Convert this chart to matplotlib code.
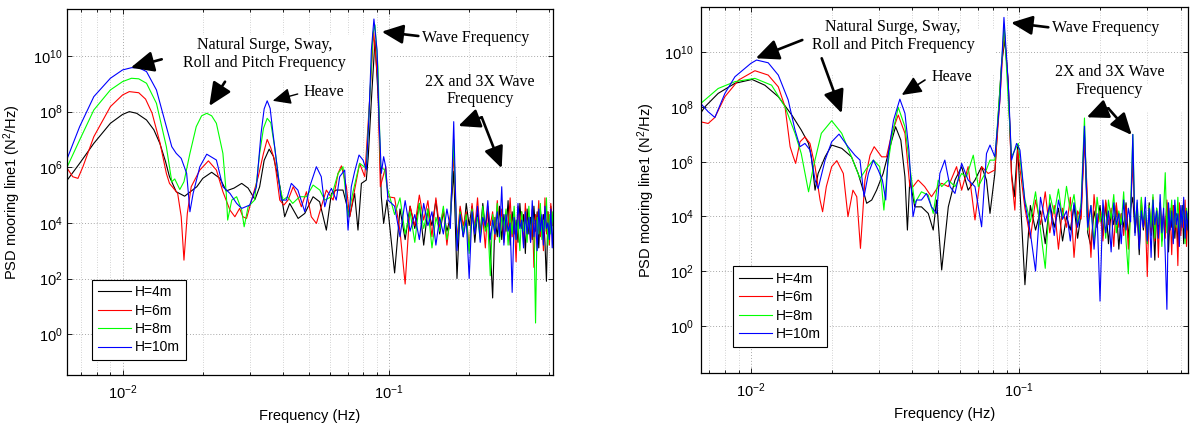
import numpy as np
import matplotlib
matplotlib.use('Agg')
import matplotlib.pyplot as plt
from matplotlib.ticker import LogLocator, NullLocator, FixedLocator
from matplotlib.patches import Rectangle

plt.rcParams['font.family'] = ['Liberation Sans', 'DejaVu Sans']
plt.rcParams['mathtext.fontset'] = 'custom'
plt.rcParams['mathtext.rm'] = 'Liberation Sans'
plt.rcParams['mathtext.it'] = 'Liberation Sans:italic'
plt.rcParams['mathtext.default'] = 'regular'

# ---------------- data (frequency in Hz, PSD as log10 value) ----------------
labels = ['H=4m', 'H=6m', 'H=8m', 'H=10m']
colors = ['#000000', '#ff0000', '#00ff00', '#0000ff']

noise_f = [0.105, 0.110, 0.115, 0.120, 0.125, 0.130, 0.135, 0.140, 0.145, 0.150,
           0.155, 0.160, 0.165, 0.170, 0.175, 0.180, 0.185, 0.190, 0.195, 0.200,
           0.205, 0.210, 0.215, 0.220, 0.225, 0.230, 0.235, 0.240, 0.245, 0.250,
           0.255, 0.260, 0.265, 0.270, 0.275, 0.280, 0.285, 0.290, 0.295, 0.300,
           0.305, 0.310, 0.315, 0.320, 0.325, 0.330, 0.335, 0.340, 0.345, 0.350,
           0.355, 0.360, 0.365, 0.370, 0.375, 0.380, 0.385, 0.390, 0.395, 0.400,
           0.405, 0.410, 0.415, 0.420, 0.425, 0.430]

# ---- left panel ----
black_L = [(0.0062, 5.54), (0.0069, 6.14), (0.0078, 6.86), (0.0090, 7.58), (0.0100, 7.90),
           (0.0106, 8.00), (0.0113, 7.94), (0.0123, 7.70), (0.0131, 7.35), (0.0138, 6.86),
           (0.0145, 6.20), (0.0150, 5.66), (0.0159, 5.12), (0.0171, 4.96), (0.0190, 5.30),
           (0.0200, 5.60), (0.0216, 5.82), (0.0232, 5.60), (0.0245, 5.15), (0.0262, 5.25),
           (0.0280, 5.42), (0.0296, 5.25), (0.0314, 4.84), (0.0327, 5.30), (0.0340, 6.25),
           (0.0355, 6.65), (0.0368, 6.40), (0.0390, 5.30), (0.0406, 4.22), (0.0424, 4.70),
           (0.0456, 4.16), (0.0483, 4.34), (0.0519, 4.94), (0.0549, 4.76), (0.0582, 3.74),
           (0.0608, 5.06), (0.0634, 5.18), (0.0672, 5.18), (0.0712, 4.22), (0.0743, 5.06),
           (0.0765, 3.74), (0.0788, 5.42), (0.0822, 5.54), (0.0836, 6.38), (0.0859, 8.42),
           (0.0886, 10.55), (0.0912, 8.42), (0.0936, 4.94), (0.0955, 3.98), (0.0983, 4.82)]
red_L = [(0.0062, 5.96), (0.0065, 5.66), (0.0068, 5.60), (0.0071, 6.02), (0.0078, 7.10),
         (0.0090, 8.18), (0.0100, 8.60), (0.0106, 8.72), (0.0115, 8.68), (0.0122, 8.45),
         (0.0129, 7.95), (0.0138, 6.90), (0.0146, 5.78), (0.0150, 5.42), (0.0161, 5.06),
         (0.0166, 4.22), (0.0170, 2.66), (0.0175, 4.34), (0.0181, 5.30), (0.0195, 5.90),
         (0.0210, 6.23), (0.0225, 5.90), (0.0238, 5.12), (0.0253, 4.46), (0.0264, 4.22),
         (0.0275, 4.52), (0.0283, 4.22), (0.0292, 4.16), (0.0305, 4.82), (0.0323, 5.66),
         (0.0338, 6.50), (0.0349, 7.00), (0.0360, 6.70), (0.0372, 6.26), (0.0389, 4.82),
         (0.0403, 4.64), (0.0418, 4.82), (0.0437, 5.30), (0.0455, 4.94), (0.0469, 4.58),
         (0.0490, 5.12), (0.0511, 4.22), (0.0534, 3.98), (0.0557, 4.58), (0.0582, 5.18),
         (0.0617, 4.82), (0.0644, 5.78), (0.0663, 6.05), (0.0692, 5.30), (0.0712, 4.22),
         (0.0743, 5.18), (0.0776, 6.14), (0.0811, 5.66), (0.0846, 8.42), (0.0876, 10.88),
         (0.0909, 9.02), (0.0928, 5.30), (0.0972, 6.02), (0.0991, 4.94)]
green_L = [(0.0062, 6.02), (0.0069, 6.98), (0.0078, 8.06), (0.0090, 8.78), (0.0100, 9.08),
           (0.0108, 9.20), (0.0115, 9.18), (0.0123, 9.02), (0.0134, 8.30), (0.0146, 6.74),
           (0.0153, 5.48), (0.0157, 5.58), (0.0164, 5.20), (0.0170, 5.48), (0.0179, 6.50),
           (0.0189, 7.46), (0.0198, 7.85), (0.0207, 7.94), (0.0216, 7.85), (0.0225, 7.58),
           (0.0238, 6.50), (0.0245, 5.06), (0.0248, 4.10), (0.0257, 4.82), (0.0268, 4.94),
           (0.0280, 4.46), (0.0286, 3.86), (0.0296, 4.58), (0.0313, 4.82), (0.0327, 6.50),
           (0.0338, 7.40), (0.0349, 7.76), (0.0360, 7.60), (0.0372, 6.74), (0.0389, 5.30),
           (0.0400, 4.82), (0.0416, 4.94), (0.0435, 4.70), (0.0462, 4.94), (0.0490, 4.94),
           (0.0519, 5.36), (0.0550, 5.18), (0.0574, 4.82), (0.0608, 4.94), (0.0644, 5.78),
           (0.0672, 6.02), (0.0702, 4.22), (0.0733, 5.12), (0.0776, 6.14), (0.0822, 5.96),
           (0.0846, 8.42), (0.0871, 10.82), (0.0886, 11.12), (0.0909, 9.62), (0.0930, 6.02),
           (0.0964, 5.90), (0.0983, 5.30)]
blue_L = [(0.0062, 6.32), (0.0069, 7.46), (0.0078, 8.54), (0.0090, 9.20), (0.0100, 9.50),
          (0.0108, 9.58), (0.0115, 9.58), (0.0123, 9.44), (0.0134, 8.78), (0.0146, 7.46),
          (0.0153, 6.74), (0.0159, 6.50), (0.0166, 6.32), (0.0174, 5.78), (0.0179, 4.40),
          (0.0184, 5.06), (0.0195, 6.02), (0.0207, 6.47), (0.0225, 6.26), (0.0238, 5.30),
          (0.0253, 5.06), (0.0268, 4.70), (0.0280, 4.52), (0.0300, 4.64), (0.0318, 5.30),
          (0.0331, 7.22), (0.0340, 8.10), (0.0349, 8.39), (0.0358, 8.12), (0.0367, 7.22),
          (0.0383, 5.78), (0.0394, 4.82), (0.0412, 4.82), (0.0430, 5.42), (0.0455, 5.18),
          (0.0483, 4.40), (0.0504, 5.30), (0.0534, 6.02), (0.0557, 5.66), (0.0574, 4.58),
          (0.0590, 5.00), (0.0608, 5.24), (0.0634, 4.82), (0.0653, 5.66), (0.0682, 5.90),
          (0.0702, 3.74), (0.0722, 5.30), (0.0743, 5.84), (0.0772, 6.44), (0.0799, 6.26),
          (0.0822, 5.90), (0.0841, 7.82), (0.0859, 10.22), (0.0878, 11.33), (0.0902, 10.22),
          (0.0917, 7.82), (0.0936, 5.78), (0.0955, 6.38), (0.0972, 6.02), (0.0991, 4.82)]

black_L_noise = [2.2, 4.5, 3.4, 4.6, 3.8, 4.7, 3.2, 4.5, 3.9, 4.8,
                 3.6, 4.4, 3.7, 4.2, 5.86, 2.0, 4.5, 3.5, 4.7, 3.9,
                 4.6, 3.3, 4.4, 3.6, 4.7, 3.8, 4.5, 3.1, 1.3, 4.2,
                 3.5, 4.6, 3.4, 4.3, 3.7, 4.8, 3.2, 4.4, 3.6, 4.1,
                 3.3, 4.7, 3.8, 4.3, 2.9, 4.5, 3.6, 4.2, 3.4, 4.6,
                 3.7, 4.4, 3.1, 4.5, 3.8, 4.3, 3.3, 1.9, 4.4, 3.5,
                 4.6, 3.9, 4.2, 3.6, 4.4, 3.8]
red_L_noise = [4.9, 3.7, 1.8, 4.6, 3.9, 5.0, 4.1, 4.8, 3.5, 4.9,
               3.8, 4.5, 3.2, 4.3, 6.5, 3.4, 4.6, 3.9, 4.4, 3.0,
               4.7, 3.8, 4.9, 3.6, 4.2, 3.1, 4.6, 3.9, 4.4, 3.4,
               4.8, 3.7, 4.5, 3.3, 4.1, 3.8, 4.9, 3.5, 4.3, 2.6,
               4.6, 3.9, 4.4, 3.2, 4.7, 3.6, 4.2, 3.3, 4.5, 2.4,
               4.3, 3.7, 4.8, 3.5, 4.1, 3.0, 4.9, 3.6, 4.4, 3.2,
               4.7, 3.9, 4.3, 3.4, 4.6, 3.8]
green_L_noise = [4.3, 4.9, 3.6, 4.4, 3.3, 4.7, 3.8, 4.5, 3.1, 4.2,
                 3.7, 4.6, 3.4, 4.1, 7.0, 3.2, 4.4, 3.6, 4.3, 2.9,
                 4.5, 3.8, 4.2, 3.4, 4.6, 3.7, 4.0, 2.1, 4.3, 3.6,
                 4.7, 3.3, 4.2, 3.8, 4.5, 3.2, 4.3, 3.6, 4.6, 3.4,
                 4.1, 3.0, 4.4, 3.7, 4.2, 3.3, 4.6, 3.5, 4.3, 3.8,
                 0.4, 4.2, 3.6, 4.7, 3.4, 4.1, 3.7, 4.9, 3.2, 4.3,
                 3.6, 4.4, 3.5, 4.6, 3.7, 4.1]
blue_L_noise = [4.6, 3.5, 4.8, 3.7, 4.3, 3.4, 4.7, 3.9, 4.4, 3.2,
                4.2, 3.6, 4.5, 3.8, 7.64, 3.0, 4.3, 3.5, 4.1, 2.0,
                4.4, 3.6, 4.6, 3.3, 4.2, 3.9, 4.8, 3.4, 4.1, 3.6,
                4.4, 3.5, 5.3, 3.2, 4.3, 3.7, 4.0, 1.5, 4.2, 3.4,
                4.7, 3.8, 4.1, 3.1, 4.4, 3.6, 4.2, 3.3, 4.8, 3.5,
                4.1, 3.0, 4.5, 3.7, 4.3, 3.2, 4.6, 3.8, 4.0, 3.4,
                4.5, 3.1, 4.2, 3.7, 4.3, 3.6]

# ---- right panel ----
black_R = [(0.0065, 7.78), (0.00674, 8.01), (0.00755, 8.50), (0.00872, 8.87), (0.0101, 9.01),
           (0.01127, 8.80), (0.01265, 8.38), (0.0142, 7.71), (0.0154, 7.16), (0.0164, 6.67),
           (0.0168, 6.18), (0.01734, 4.96), (0.0178, 5.57), (0.0189, 6.18), (0.0200, 6.61),
           (0.0218, 6.49), (0.0237, 6.18), (0.0251, 5.57), (0.0262, 4.96), (0.0270, 4.48),
           (0.0282, 4.60), (0.0294, 4.96), (0.0311, 5.57), (0.0330, 6.55), (0.0346, 7.28),
           (0.0362, 6.79), (0.0375, 5.45), (0.0383, 3.50), (0.0391, 5.33), (0.0408, 4.35),
           (0.0432, 4.35), (0.0458, 4.11), (0.0478, 3.50), (0.0492, 4.60), (0.0514, 2.04),
           (0.0544, 4.35), (0.0576, 5.33), (0.0610, 5.82), (0.0645, 4.96), (0.0684, 5.33),
           (0.0724, 5.82), (0.0755, 5.33), (0.0778, 4.11), (0.0811, 5.57), (0.0835, 7.71),
           (0.0859, 9.60), (0.0884, 10.45), (0.0910, 8.87), (0.0936, 5.57), (0.0958, 4.72),
           (0.0986, 6.55)]
red_R = [(0.0065, 7.46), (0.00693, 7.40), (0.00734, 7.62), (0.0080, 8.38), (0.0090, 8.99),
         (0.01035, 9.33), (0.0116, 9.17), (0.01265, 8.74), (0.0134, 8.01), (0.0140, 6.55),
         (0.01439, 6.18), (0.01468, 5.94), (0.01524, 6.73), (0.0159, 6.91), (0.0166, 6.67),
         (0.01734, 5.82), (0.0181, 4.60), (0.0185, 4.17), (0.0191, 5.09), (0.0200, 5.82),
         (0.0209, 6.04), (0.0221, 5.57), (0.0230, 3.99), (0.0240, 4.96), (0.0248, 4.72),
         (0.0256, 2.83), (0.0266, 5.33), (0.0278, 6.24), (0.0288, 6.55), (0.0307, 6.18),
         (0.0320, 6.18), (0.0335, 7.04), (0.0354, 7.71), (0.0375, 7.04), (0.0391, 5.09),
         (0.0402, 5.09), (0.0420, 5.33), (0.0444, 5.09), (0.0471, 4.72), (0.0499, 5.09),
         (0.0514, 5.21), (0.0544, 5.09), (0.0584, 5.82), (0.0610, 4.96), (0.0645, 5.82),
         (0.0684, 3.87), (0.0724, 5.82), (0.0766, 5.57), (0.0811, 5.70), (0.0847, 8.26),
         (0.0879, 10.84), (0.0910, 8.87), (0.0936, 5.45), (0.0963, 4.23), (0.0986, 6.43)]
green_R = [(0.0065, 8.13), (0.00755, 8.68), (0.00872, 8.93), (0.01035, 9.05), (0.01194, 8.80),
           (0.0134, 8.01), (0.0146, 7.04), (0.0154, 6.30), (0.0164, 4.90), (0.0171, 5.82),
           (0.0183, 7.04), (0.0200, 7.50), (0.0218, 7.04), (0.0237, 6.18), (0.0255, 5.39),
           (0.0270, 5.76), (0.0286, 6.06), (0.0302, 5.82), (0.0313, 4.23), (0.0323, 5.82),
           (0.0337, 7.04), (0.0354, 7.99), (0.0375, 7.28), (0.0391, 5.82), (0.0408, 4.48),
           (0.0432, 4.90), (0.0458, 4.78), (0.0478, 4.11), (0.0499, 5.33), (0.0514, 5.09),
           (0.0544, 5.33), (0.0576, 5.09), (0.0610, 5.57), (0.0636, 5.45), (0.0674, 6.24),
           (0.0704, 5.09), (0.0745, 5.57), (0.0778, 6.06), (0.0811, 6.06), (0.0842, 8.26),
           (0.0879, 11.00), (0.0910, 8.26), (0.0936, 6.18), (0.0963, 6.43), (0.0991, 6.67)]
blue_R = [(0.0065, 8.13), (0.00693, 7.83), (0.00734, 7.62), (0.0080, 8.50), (0.00872, 9.11),
          (0.0100, 9.60), (0.0105, 9.72), (0.0116, 9.62), (0.01265, 9.17), (0.01377, 8.26),
          (0.0146, 7.16), (0.01524, 6.55), (0.0159, 6.67), (0.0166, 6.43), (0.01734, 5.33),
          (0.0178, 5.02), (0.0189, 6.06), (0.0200, 6.73), (0.0213, 7.01), (0.0230, 6.55),
          (0.0244, 6.24), (0.0255, 6.06), (0.0264, 4.72), (0.0274, 5.57), (0.0286, 6.06),
          (0.0298, 5.70), (0.0309, 5.33), (0.0318, 4.60), (0.0325, 6.30), (0.0340, 7.52),
          (0.0359, 8.29), (0.0375, 7.77), (0.0388, 6.43), (0.0402, 3.99), (0.0414, 4.60),
          (0.0432, 4.60), (0.0451, 4.84), (0.0471, 4.35), (0.0492, 4.11), (0.0506, 5.57),
          (0.0528, 6.06), (0.0552, 5.09), (0.0576, 4.84), (0.0610, 5.94), (0.0645, 5.33),
          (0.0684, 5.09), (0.0724, 3.62), (0.0755, 6.30), (0.0778, 6.61), (0.0811, 6.18),
          (0.0847, 8.26), (0.0877, 11.28), (0.0910, 8.87), (0.0936, 6.06), (0.0977, 6.67),
          (0.1006, 6.43)]

black_R_noise = [1.5, 4.4, 3.5, 4.2, 3.0, 4.5, 3.6, 4.3, 3.1, 4.0,
                 3.5, 4.4, 3.2, 4.1, 6.97, 3.4, 2.9, 4.2, 3.6, 4.4,
                 3.3, 4.5, 3.0, 4.2, 3.7, 4.4, 2.8, 4.1, 3.6, 4.5,
                 3.2, 4.3, 4.7, 3.4, 4.2, 2.6, 4.4, 3.5, 4.1, 3.0,
                 4.5, 3.3, 4.0, 2.4, 4.3, 3.6, 4.4, 3.1, 4.0, 3.5,
                 4.5, 2.7, 4.2, 3.6, 4.4, 3.2, 4.1, 2.9, 4.3, 3.5,
                 4.4, 3.0, 4.2, 3.4, 4.0, 3.6]
red_R_noise = [4.3, 3.2, 4.6, 3.7, 4.9, 3.4, 4.4, 2.8, 4.3, 3.6,
               4.7, 2.5, 4.2, 3.9, 6.9, 4.5, 2.5, 4.8, 3.6, 4.2,
               3.1, 4.6, 3.7, 4.3, 2.9, 4.5, 3.6, 4.1, 3.3, 4.4,
               2.8, 4.2, 6.0, 3.5, 4.3, 3.0, 4.6, 3.6, 4.0, 1.8,
               4.4, 3.4, 4.7, 3.1, 4.2, 2.5, 4.5, 3.7, 4.1, 3.2,
               4.6, 3.4, 4.3, 2.6, 4.4, 3.5, 4.0, 2.2, 4.5, 3.3,
               4.2, 3.6, 4.6, 2.9, 4.1, 3.5]
green_R_noise = [4.6, 3.8, 4.9, 3.5, 2.1, 4.8, 4.1, 5.0, 3.9, 5.1,
                 4.2, 4.8, 3.7, 4.5, 7.6, 3.5, 4.4, 3.0, 4.7, 3.8,
                 4.3, 3.2, 4.6, 3.9, 4.8, 3.4, 4.2, 3.7, 4.9, 3.1,
                 1.9, 4.4, 7.0, 3.6, 4.5, 3.3, 4.7, 3.8, 4.2, 3.0,
                 4.4, 3.6, 4.8, 3.2, 4.3, 3.7, 4.5, 2.9, 4.2, 5.6,
                 3.4, 4.3, 3.8, 4.6, 3.1, 4.4, 3.6, 4.7, 3.3, 4.2,
                 3.7, 4.5, 3.0, 4.3, 3.8, 4.6]
blue_R_noise = [4.5, 3.4, 2.0, 4.7, 3.8, 4.4, 3.3, 4.6, 3.9, 4.2,
                3.1, 4.5, 3.6, 4.3, 7.3, 3.6, 4.4, 2.8, 4.1, 0.9,
                4.6, 3.4, 4.2, 2.7, 4.5, 3.7, 4.1, 3.0, 4.6, 3.5,
                4.3, 3.8, 7.0, 3.3, 4.6, 2.8, 4.2, 3.6, 4.7, 3.1,
                4.3, 2.5, 4.6, 3.7, 4.2, 3.2, 4.8, 3.4, 4.3, 2.6,
                0.6, 4.5, 3.5, 4.2, 3.0, 4.6, 3.7, 4.1, 2.9, 4.4,
                3.6, 4.7, 3.2, 4.2, 3.5, 4.4]

left_smooth = [black_L, red_L, green_L, blue_L]
left_noise = [black_L_noise, red_L_noise, green_L_noise, blue_L_noise]
right_smooth = [black_R, red_R, green_R, blue_R]
right_noise = [black_R_noise, red_R_noise, green_R_noise, blue_R_noise]

ytick_exp = [0, 2, 4, 6, 8, 10]


def build(smooth, noise):
    n = min(len(noise_f), len(noise))
    f = [p[0] for p in smooth] + noise_f[:n]
    v = [p[1] for p in smooth] + list(noise[:n])
    return np.array(f), 10.0 ** np.array(v)


def style_axes(ax, xlim, ylim, ypad):
    ax.set_xscale('log')
    ax.set_yscale('log')
    ax.set_xlim(*xlim)
    ax.set_ylim(*ylim)
    ax.yaxis.set_major_locator(FixedLocator([10.0 ** e for e in ytick_exp]))
    ax.yaxis.set_minor_locator(NullLocator())
    ax.xaxis.set_major_locator(LogLocator(base=10, numticks=10))
    ax.xaxis.set_minor_locator(LogLocator(base=10, subs=np.arange(2, 10), numticks=12))
    ax.tick_params(which='both', direction='in', top=True, right=True,
                   labelsize=10.5, color='k')
    ax.tick_params(which='major', length=3.8, width=0.6)
    ax.tick_params(which='minor', length=2.4, width=0.6)
    ax.tick_params(axis='y', pad=ypad)
    ax.tick_params(axis='x', pad=6)
    ax.grid(True, which='major', axis='both', linestyle=(0, (1, 2)), color='#a8a8a8', lw=0.7)
    ax.grid(True, which='minor', axis='x', linestyle=(0, (1, 2)), color='#c4c4c4', lw=0.6)
    ax.set_axisbelow(True)
    for s in ax.spines.values():
        s.set_linewidth(0.9)
        s.set_color('k')
    ax.set_xlabel('Frequency (Hz)', fontsize=10.5, labelpad=5)
    ax.set_ylabel('PSD mooring line1 (N$^2$/Hz)', fontsize=10.5)


def arrow(ax, tail, tip, lw=1.9, ms=14, hl=1.0, hw=0.45):
    ax.annotate('', xy=tip, xytext=tail, xycoords='axes fraction',
                textcoords='axes fraction', annotation_clip=False,
                arrowprops=dict(arrowstyle='-|>,head_length=%g,head_width=%g' % (hl, hw),
                                lw=lw, color='k', shrinkA=0, shrinkB=0,
                                mutation_scale=ms))


def note(ax, x, y, s):
    ax.text(x, y, s, transform=ax.transAxes, ha='center', va='center',
            fontsize=11.5, family=['Liberation Serif', 'DejaVu Serif'],
            linespacing=1.12, zorder=5)


def white_box(ax, x0, y0, x1, y1):
    # white background of the annotation boxes (hides grid, not the data)
    ax.add_patch(Rectangle((x0, y0), x1 - x0, y1 - y0, transform=ax.transAxes,
                           facecolor='white', edgecolor='none', zorder=1))


fig = plt.figure(figsize=(11.92, 4.28), dpi=100)
axL = fig.add_axes([0.05596, 0.12383, 0.40755, 0.85444])
axR = fig.add_axes([0.58784, 0.12780, 0.40881, 0.85514])

for ax, sm, nz in ((axL, left_smooth, left_noise), (axR, right_smooth, right_noise)):
    for s, n, c, lab in zip(sm, nz, colors, labels):
        f, p = build(s, n)
        ax.plot(f, p, color=c, lw=0.8, label=lab, zorder=2)

style_axes(axL, (0.00617, 0.411), (10 ** -1.47, 10 ** 11.68), 3)
style_axes(axR, (0.0065, 0.4255), (10 ** -1.74, 10 ** 11.65), 5)
axL.yaxis.set_label_coords(-0.090, 0.5)
axR.yaxis.set_label_coords(-0.090, 0.5)

for ax, anchor in ((axL, (0.0527, 0.041)), (axR, (0.0669, 0.0727))):
    leg = ax.legend(loc='lower left', bbox_to_anchor=anchor, borderaxespad=0,
                    fontsize=10, handlelength=2.4, handletextpad=0.3,
                    labelspacing=0.32, borderpad=0.4, fancybox=False,
                    framealpha=1, edgecolor='k')
    leg.get_frame().set_linewidth(0.8)
    leg.set_zorder(6)

# ---- left annotations ----
white_box(axL, 0.1303, 0.8067, 0.6656, 0.9297)
white_box(axL, 0.6923, 0.7080, 1.0, 0.7930)
note(axL, 0.407, 0.878, 'Natural Surge, Sway,\nRoll and Pitch Frequency')
note(axL, 0.530, 0.774, 'Heave')
note(axL, 0.8425, 0.9215, 'Wave Frequency')
note(axL, 0.851, 0.778, '2X and 3X Wave\nFrequency')
arrow(axL, (0.1956, 0.8633), (0.1317, 0.8403))
arrow(axL, (0.3259, 0.8020), (0.2935, 0.7356))
arrow(axL, (0.4755, 0.7684), (0.4240, 0.7498), lw=1.0, ms=11, hl=1.0, hw=0.45)
arrow(axL, (0.7238, 0.9270), (0.6484, 0.9388), ms=13)
arrow(axL, (0.8543, 0.7047), (0.8061, 0.6809), ms=13)
arrow(axL, (0.8543, 0.7047), (0.8954, 0.5652), ms=13)

# ---- right annotations ----
white_box(axR, 0.1135, 0.8150, 0.6039, 0.9380)
white_box(axR, 0.6778, 0.7140, 1.0, 0.7880)
note(axR, 0.3946, 0.9216, 'Natural Surge, Sway,\nRoll and Pitch Frequency')
note(axR, 0.5147, 0.8087, 'Heave')
note(axR, 0.8307, 0.9426, 'Wave Frequency')
note(axR, 0.8389, 0.7981, '2X and 3X Wave\nFrequency')
arrow(axR, (0.2085, 0.9107), (0.1129, 0.8607))
arrow(axR, (0.2483, 0.8607), (0.2894, 0.7104))
arrow(axR, (0.4603, 0.8014), (0.4125, 0.7604), lw=1.2, ms=12)
arrow(axR, (0.7133, 0.9454), (0.6368, 0.9580), ms=13)
arrow(axR, (0.8365, 0.7240), (0.7921, 0.6995), ms=13)
arrow(axR, (0.8365, 0.7240), (0.8845, 0.6511), ms=13)

fig.savefig('out.png', dpi=100)
